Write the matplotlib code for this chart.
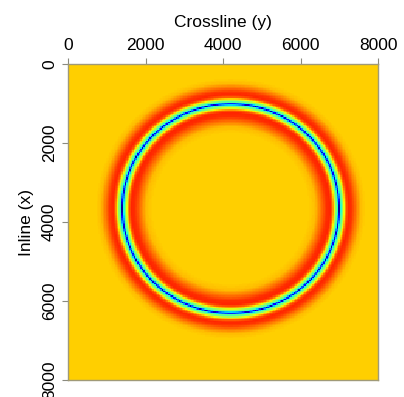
import numpy as np
import matplotlib
matplotlib.use("Agg")
import matplotlib.pyplot as plt

# ---- data ----
x_ticks = [0, 2000, 4000, 6000, 8000]          # Crossline (y)
y_ticks = [0, 2000, 4000, 6000, 8000]          # Inline (x)
extent_max = 8000
grid_step = 40

# wavefront ring geometry (data units)
ring_center_crossline = 4200
ring_center_inline = 3660
ring_radius_crossline = 2800
ring_radius_inline = 2650

# radial profile across the wavefront: offset from ring (data units, + = outside)
# and colour-scale level (0..1 on the jet scale)
profile_offset = [-760, -600, -450, -320, -230, -170, -125, -85, -45, -15, 0, 15, 45, 85, 125, 175, 240, 320, 420, 540, 660]
profile_level  = [0.69, 0.71, 0.79, 0.86, 0.87, 0.80, 0.66, 0.52, 0.44, 0.22, 0.03, 0.22, 0.44, 0.52, 0.66, 0.81, 0.87, 0.85, 0.78, 0.71, 0.69]
background_level = 0.69

# ---- field ----
cl = np.arange(0, extent_max + grid_step, grid_step)
il = np.arange(0, extent_max + grid_step, grid_step)
CL, IL = np.meshgrid(cl, il)
rn = np.sqrt(((CL - ring_center_crossline) / ring_radius_crossline) ** 2 +
             ((IL - ring_center_inline) / ring_radius_inline) ** 2)
mean_r = 0.5 * (ring_radius_crossline + ring_radius_inline)
d = (rn - 1.0) * mean_r
Z = np.interp(d, profile_offset, profile_level, left=background_level, right=background_level)

plt.rcParams['font.family'] = ['Liberation Sans', 'DejaVu Sans']

fig = plt.figure(figsize=(4.04, 3.97), dpi=100)
ax = fig.add_axes([68 / 404, 1 - 380 / 397, 310 / 404, 316 / 397])
ax.imshow(Z, cmap='jet', vmin=0, vmax=1, origin='upper', aspect='auto',
          extent=[0 - grid_step / 2, extent_max + grid_step / 2, extent_max + grid_step / 2, 0 - grid_step / 2],
          interpolation='nearest')
ax.set_xlim(0, extent_max)
ax.set_ylim(extent_max, 0)

ax.xaxis.set_ticks_position('top')
ax.xaxis.set_label_position('top')
ax.set_xticks(x_ticks)
ax.set_yticks(y_ticks)
ax.set_xticklabels([str(v) for v in x_ticks], fontsize=12.5)
ax.set_yticklabels([str(v) for v in y_ticks], fontsize=12.5, rotation=90, va='center')
ax.set_xlabel('Crossline (y)', fontsize=12.5, labelpad=8)
ax.set_ylabel('Inline (x)', fontsize=12.5, labelpad=6)
ax.tick_params(axis='both', length=4, width=0.8, color='#8a8a80', pad=4)
for s in ax.spines.values():
    s.set_color('#a09a78')
    s.set_linewidth(1.0)

fig.savefig('out.png', dpi=100)
